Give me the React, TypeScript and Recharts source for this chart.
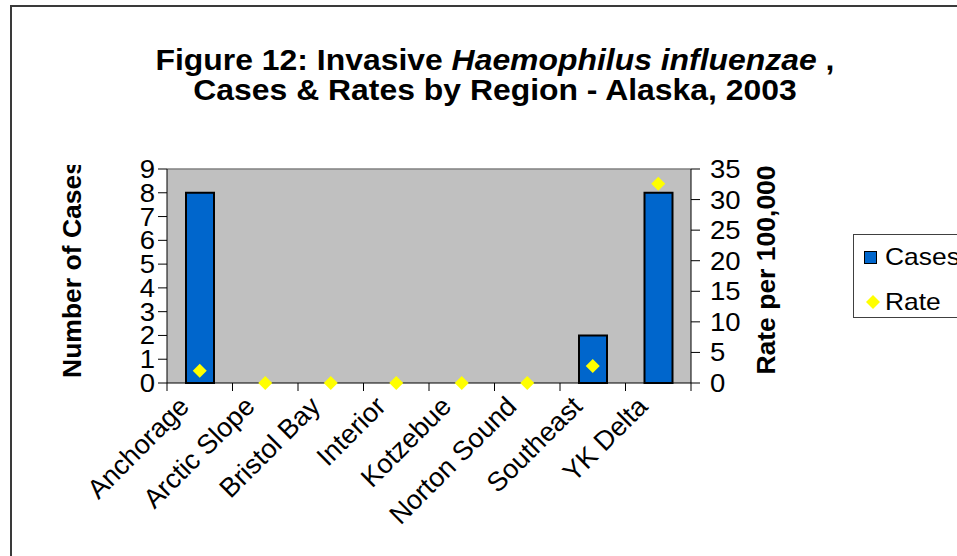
import React from 'react';
import {
  Bar,
  CartesianGrid,
  ComposedChart,
  Line,
  ReferenceLine,
  XAxis,
  YAxis,
} from 'recharts';

const regions = [
  'Anchorage',
  'Arctic Slope',
  'Bristol Bay',
  'Interior',
  'Kotzebue',
  'Norton Sound',
  'Southeast',
  'YK Delta',
];
const cases = [8, 0, 0, 0, 0, 0, 2, 8];
const rates = [2.0, 0, 0, 0, 0, 0, 2.8, 32.6];
const caseTicks = [0, 1, 2, 3, 4, 5, 6, 7, 8, 9];
const rateTicks = [0, 5, 10, 15, 20, 25, 30, 35];

const data = regions.map((name, i) => ({ name, cases: cases[i], rate: rates[i] }));

const FONT = '"Liberation Sans", Arial, sans-serif';
// the source picture is a little wider than tall, so text gets stretched a bit
const STRETCH = 1.1;

const CategoryTick = (props: any) => {
  const { x, y, payload, index } = props;
  const off = payload.offset || 0;
  const tx = x - 9;
  const ty = y + 25;
  return (
    <g>
      <line x1={x - off} y1={y} x2={x - off} y2={y + 8} stroke="#000" />
      {index === regions.length - 1 && (
        <line x1={x + off} y1={y} x2={x + off} y2={y + 8} stroke="#000" />
      )}
      <text
        x={tx}
        y={ty}
        textAnchor="end"
        transform={`rotate(-45, ${tx}, ${ty})`}
        fontFamily={FONT}
        fontSize={27}
        fill="#000"
      >
        {payload.value}
      </text>
    </g>
  );
};

const NumTick = (props: any) => {
  const { x, y, payload, textAnchor } = props;
  return (
    <text
      x={x}
      y={y}
      dy="0.36em"
      textAnchor={textAnchor}
      transform={`matrix(${STRETCH},0,0,1,${(1 - STRETCH) * x},0)`}
      fontFamily={FONT}
      fontSize={25}
      fill="#000"
    >
      {payload.value}
    </text>
  );
};

const Diamond = (props: any) => {
  const { cx, cy, index } = props;
  if (cx == null || cy == null) return <g key={index} />;
  const r = 7;
  return (
    <polygon
      key={index}
      points={`${cx},${cy - r} ${cx + r},${cy} ${cx},${cy + r} ${cx - r},${cy}`}
      fill="#FFFF00"
    />
  );
};

export default function App() {
  return (
    <div style={{ position: 'absolute', left: 0, top: 0, width: 957, height: 556, overflow: 'hidden', background: '#fff', fontFamily: FONT }}>
      <div style={{ position: 'absolute', left: 10, top: 5, width: 1000, height: 600, border: '2px solid #3a3a3a' }} />

      <div style={{ position: 'absolute', left: 0, top: 45, width: 990, textAlign: 'center', fontWeight: 'bold', fontSize: 29, lineHeight: '30px', color: '#000', transform: `scaleX(${STRETCH})`, transformOrigin: '495px 0' }}>
        <div>
          Figure 12: Invasive <i>Haemophilus influenzae</i> ,
        </div>
        <div>Cases &amp; Rates by Region - Alaska, 2003</div>
      </div>

      <div style={{ position: 'absolute', left: 0, top: 0 }}>
        <ComposedChart width={957} height={556} data={data} margin={{ top: 169, right: 0, bottom: 0, left: 0 }}>
          <CartesianGrid yAxisId="left" horizontal={false} vertical={false} fill="#C0C0C0" />
          <ReferenceLine yAxisId="left" y={9} stroke="#808080" strokeWidth={1.5} />
          <XAxis
            dataKey="name"
            height={173}
            interval={0}
            tickLine={false}
            tickSize={0}
            tickMargin={0}
            axisLine={{ stroke: '#000' }}
            tick={<CategoryTick />}
          />
          <YAxis
            yAxisId="left"
            width={167}
            domain={[0, 9]}
            ticks={caseTicks}
            interval={0}
            tickSize={9}
            tickMargin={3}
            axisLine={{ stroke: '#000' }}
            tickLine={{ stroke: '#000' }}
            tick={<NumTick />}
          />
          <YAxis
            yAxisId="right"
            orientation="right"
            width={266}
            domain={[0, 35]}
            ticks={rateTicks}
            interval={0}
            tickSize={9}
            tickMargin={10}
            axisLine={{ stroke: '#000' }}
            tickLine={{ stroke: '#000' }}
            tick={<NumTick />}
          />
          <Bar yAxisId="left" dataKey="cases" fill="#0066CC" stroke="#000" strokeWidth={2} barSize={28} isAnimationActive={false} />
          <Line yAxisId="right" dataKey="rate" stroke="none" dot={<Diamond />} activeDot={false} isAnimationActive={false} />
        </ComposedChart>
      </div>

      {/* left axis title is cut off at the top in the original */}
      <div style={{ position: 'absolute', left: 40, top: 165, width: 70, height: 230, overflow: 'hidden' }}>
        <div style={{ position: 'absolute', left: 32, top: 104, transform: 'translate(-50%, -50%) rotate(-90deg)', whiteSpace: 'nowrap', fontWeight: 'bold', fontSize: 26.5, color: '#000' }}>
          Number of Cases
        </div>
      </div>
      <div style={{ position: 'absolute', left: 766, top: 270, transform: 'translate(-50%, -50%) rotate(-90deg)', whiteSpace: 'nowrap', fontWeight: 'bold', fontSize: 26.5, color: '#000' }}>
        Rate per 100,000
      </div>

      <div style={{ position: 'absolute', left: 853, top: 234, width: 200, height: 82, border: '1px solid #404040', background: '#fff' }}>
        <div style={{ position: 'absolute', left: 10, top: 16, width: 11, height: 11, background: '#0066CC', border: '1px solid #000' }} />
        <div style={{ position: 'absolute', left: 31, top: 9, fontSize: 24, lineHeight: '26px', color: '#000', transform: `scaleX(${STRETCH})`, transformOrigin: '0 0' }}>Cases</div>
        <svg style={{ position: 'absolute', left: 12, top: 60 }} width={14} height={14}>
          <polygon points="7,0 14,7 7,14 0,7" fill="#FFFF00" />
        </svg>
        <div style={{ position: 'absolute', left: 31, top: 54, fontSize: 24, lineHeight: '26px', color: '#000', transform: `scaleX(${STRETCH})`, transformOrigin: '0 0' }}>Rate</div>
      </div>
    </div>
  );
}
